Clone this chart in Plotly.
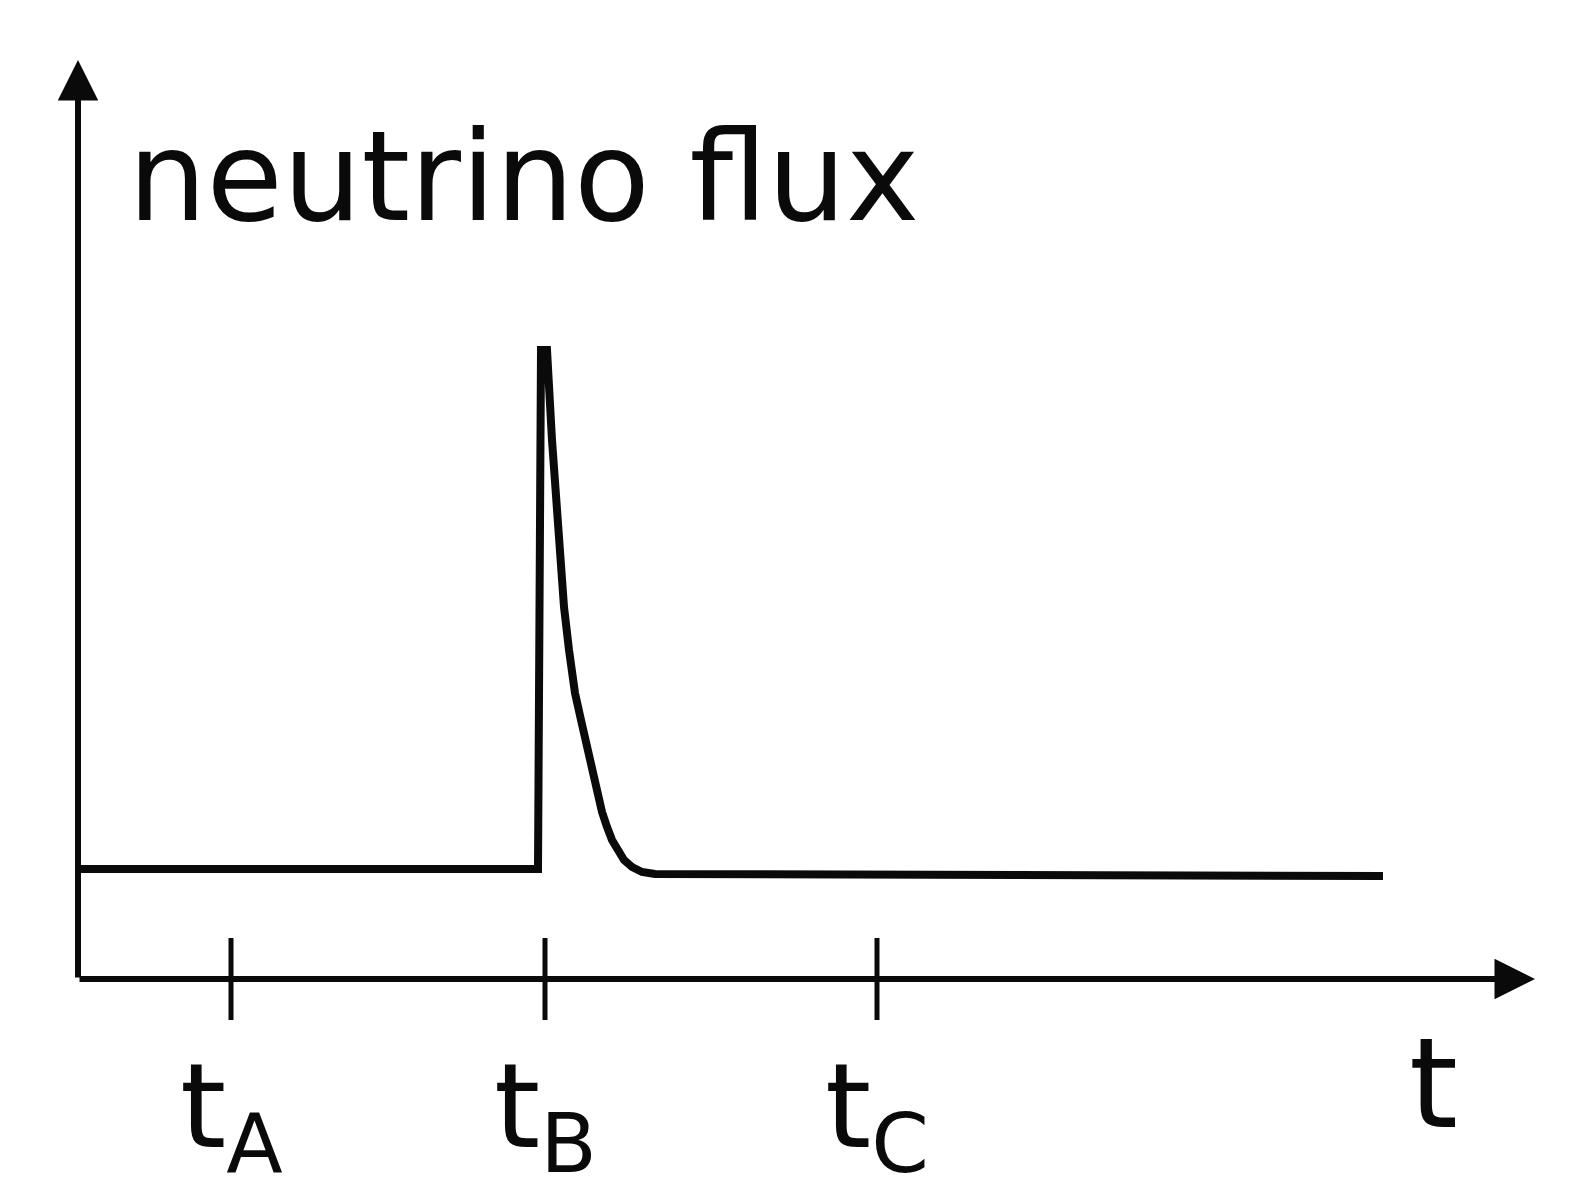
import plotly.graph_objects as go

# time axis (arbitrary units) and neutrino flux
flux_t = [0.0, 4.60, 4.63, 4.69, 4.74, 4.77, 4.80, 4.83, 4.86, 4.91, 4.97, 5.03,
          5.08, 5.13, 5.19, 5.24, 5.29, 5.34, 5.40, 5.46, 5.54, 5.64, 5.77, 13.05]
flux_v = [1.10, 1.10, 6.29, 6.29, 5.39, 4.89, 4.56, 4.14, 3.72, 3.29, 2.86, 2.59,
          2.36, 2.09, 1.86, 1.67, 1.52, 1.39, 1.29, 1.19, 1.12, 1.07, 1.05, 1.03]

tick_t = [1.53, 4.67, 7.99]
tick_labels = ["t<sub>A</sub>", "t<sub>B</sub>", "t<sub>C</sub>"]

x_tip = 14.57   # end of the time axis arrow
y_tip = 9.19    # end of the flux axis arrow
tick_half = 0.41

FONT = "DejaVu Sans"
INK = "#0a0a0a"

fig = go.Figure()

# tick marks crossing the time axis
tick_x, tick_y = [], []
for t in tick_t:
    tick_x += [t, t, None]
    tick_y += [-tick_half, tick_half, None]
fig.add_trace(
    go.Scatter(
        x=tick_x, y=tick_y, mode="lines",
        line=dict(color=INK, width=5),
        hoverinfo="skip", showlegend=False,
    )
)

fig.add_trace(
    go.Scatter(
        x=flux_t, y=flux_v, mode="lines",
        line=dict(color=INK, width=8),
        hoverinfo="skip", showlegend=False,
    )
)

# axes drawn as arrows from the origin
for tip_x, tip_y in [(0, y_tip), (x_tip, 0)]:
    fig.add_annotation(
        x=tip_x, y=tip_y, ax=0, ay=0,
        xref="x", yref="y", axref="x", ayref="y",
        text="", showarrow=True,
        arrowhead=2, arrowsize=1.35, arrowwidth=6, arrowcolor=INK,
    )

for t, lab in zip(tick_t, tick_labels):
    fig.add_annotation(
        x=t, y=-0.56, xref="x", yref="y",
        text=lab, showarrow=False,
        xanchor="center", yanchor="top",
        font=dict(family=FONT, size=118, color=INK),
    )

fig.add_annotation(
    x=13.55, y=-0.3, xref="x", yref="y",
    text="t", showarrow=False,
    xanchor="center", yanchor="top",
    font=dict(family=FONT, size=125, color=INK),
)

fig.add_annotation(
    x=0.48, y=8.02, xref="x", yref="y",
    text="neutrino flux", showarrow=False,
    xanchor="left", yanchor="middle",
    font=dict(family=FONT, size=124, color=INK),
)

fig.update_layout(
    width=1570,
    height=1199,
    margin=dict(l=0, r=0, t=0, b=0),
    paper_bgcolor="white",
    plot_bgcolor="white",
    xaxis=dict(range=[-0.78, 14.92], visible=False, fixedrange=True),
    yaxis=dict(range=[-2.20, 9.79], visible=False, fixedrange=True),
)

fig.write_html(
    "out.html",
    config={"displayModeBar": False},
    post_script="document.body.style.margin='0';",
)
